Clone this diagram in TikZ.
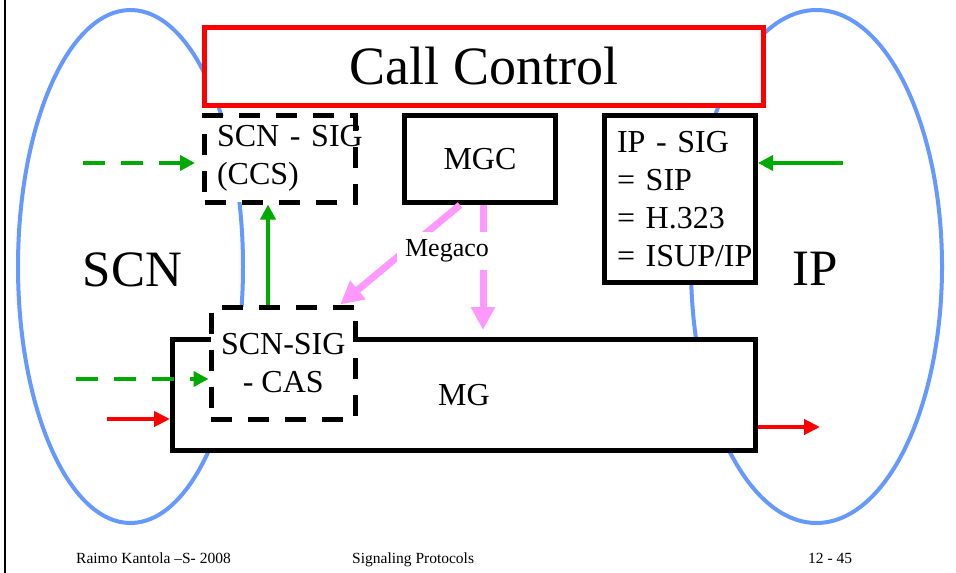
\documentclass[tikz,border=0pt]{standalone}
\usepackage{fontspec}
\setmainfont{Liberation Serif}
\usetikzlibrary{arrows.meta}
\definecolor{sgblue}{HTML}{6699FF}
\definecolor{sgred}{HTML}{FF0000}
\definecolor{sggreen}{HTML}{00AA00}
\definecolor{sgpink}{HTML}{FF99FF}

\tikzset{
  netzone/.style={draw=sgblue, line width=4pt},
  fnbox/.style={draw, line width=5pt, fill=white, inner sep=0pt,
    font=\fontsize{32}{38}\selectfont},
  dashbox/.style={fnbox, dash pattern=on 21pt off 16pt},
  sigarrow/.style={draw=sggreen, line width=4pt,
    -{Triangle[length=15pt,width=15pt]}},
  sigdashed/.style={sigarrow, dash pattern=on 22pt off 16pt},
  bearer/.style={draw=sgred, line width=4pt,
    -{Triangle[length=16pt,width=15pt]}},
  megarrow/.style={draw=sgpink, line width=7pt,
    -{Triangle[length=23pt,width=23pt]}},
  zonelabel/.style={font=\fontsize{51}{60}\selectfont, anchor=base},
  slidefoot/.style={font=\fontsize{15.5}{18}\selectfont, anchor=base west, inner sep=0pt},
}

\begin{document}
\begin{tikzpicture}[x=1pt, y=-1pt]
  \useasboundingbox (0,0) rectangle (956,573);
  \draw[line width=1.5pt] (5,0) -- (5,573);

  % the two networks sit behind every box
  \draw[netzone] (130.5,266.5) ellipse [x radius=112.5pt, y radius=256.5pt];
  \draw[netzone] (816.5,266.5) ellipse [x radius=125.5pt, y radius=256.5pt];

  \node[fnbox, draw=sgred, minimum width=559.5pt, minimum height=78pt,
    font=\fontsize{54}{60}\selectfont] (callctl) at (483.75,66.5) {Call Control};
  \node[dashbox, minimum width=151pt, minimum height=86.5pt,
    text width=126pt, align=left] (ccs) at (280,158.75) {\mbox{SCN - SIG}\\(CCS)};
  \node[fnbox, minimum width=151pt, minimum height=87pt] (mgc) at (480,159) {MGC};
  \node[fnbox, minimum width=151pt, minimum height=167pt,
    text width=126pt, align=left] (ipsig) at (680,199)
    {IP - SIG\\= SIP\\= H.323\\\mbox{= ISUP/IP}};
  \node[fnbox, minimum width=583pt, minimum height=111pt] (mg) at (464,395) {MG};
  % CAS signalling is cut into the corner of the gateway
  \node[dashbox, minimum width=144.5pt, minimum height=112.5pt, align=center]
    (cas) at (283.25,363.25) {SCN-SIG\\- CAS};

  % Megaco control, broken by its label
  \draw[megarrow] ([xshift=-20pt]mgc.south) -- ([xshift=57pt]cas.north);
  \draw[megarrow, shorten >=7pt] ([xshift=3pt]mgc.south) -- ([xshift=3pt]mgc.south |- mg.north);
  \node[fill=white, inner sep=8pt, font=\fontsize{26}{30}\selectfont] (megaco) at (447,251) {Megaco};

  % signalling
  \coordinate (ccsin) at (83,163);
  \coordinate (casin) at (76,379);
  \coordinate (ipin) at (843,163);
  \draw[sigdashed, shorten >=7pt] (ccsin) -- (ccsin -| ccs.west);
  \draw[sigdashed] (casin) -- (casin -| cas.west);
  \draw[sigarrow] ([xshift=-15.25pt]cas.north) -- ([xshift=-12pt]ccs.south);
  \draw[sigarrow] (ipin) -- (ipin -| ipsig.east);

  % bearer
  \coordinate (tdmin) at (107,419);
  \coordinate (ipout) at (820,427);
  \draw[bearer] (tdmin) -- (tdmin -| mg.west);
  \draw[bearer] (ipout -| mg.east) -- (ipout);

  \node[zonelabel] (scn) at (132.5,286) {SCN};
  \node[zonelabel] (ip) at (815.5,285) {IP};

  \node[slidefoot] (author) at (76,563) {Raimo Kantola –S- 2008};
  \node[slidefoot] (course) at (352,563) {Signaling Protocols};
  \node[slidefoot] (pageno) at (808,563) {12 - 45};
\end{tikzpicture}
\end{document}
